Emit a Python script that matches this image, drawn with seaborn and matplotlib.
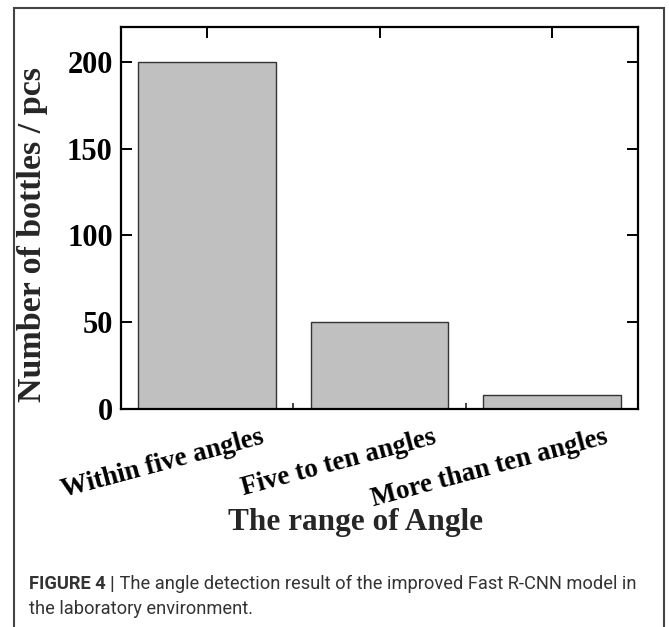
import matplotlib
matplotlib.use("Agg")
import matplotlib.pyplot as plt
import matplotlib.transforms as mtransforms
from matplotlib.patches import Rectangle
import seaborn as sns
import pandas as pd

categories = ["Within five angles", "Five to ten angles", "More than ten angles"]
counts = [200, 50, 8]
y_ticks = [0, 50, 100, 150, 200]
x_label = "The range of Angle"
y_label = "Number of bottles / pcs"
caption_bold = "FIGURE 4 |"
caption_line1 = " The angle detection result of the improved Fast R-CNN model in"
caption_line2 = "the laboratory environment."

sns.set_style("ticks")
plt.rcParams["font.family"] = ["Liberation Serif", "DejaVu Serif"]

df = pd.DataFrame({"cat": categories, "n": counts})

W, H = 669, 627
fig = plt.figure(figsize=(W / 100, H / 100), dpi=100)
ax = fig.add_axes([121 / W, 1 - 409 / H, 517 / W, 382 / H])

sns.barplot(data=df, x="cat", y="n", color="#c0c0c0", edgecolor="#333333",
            linewidth=1.0, width=0.8, saturation=1, ax=ax)
ax.set_xlim(-0.5, 2.5)
ax.set_ylim(0, 220)
ax.set_yticks(y_ticks)

for s in ax.spines.values():
    s.set_linewidth(1.6)
    s.set_color("black")
    s.set_visible(True)

ax.tick_params(axis="both", which="major", direction="in", length=8, width=1.4,
               top=True, right=True, colors="black")
ax.set_xticks([0.5, 1.5], minor=True)
ax.tick_params(axis="x", which="minor", direction="in", length=4, width=1.2,
               bottom=True, top=False)
ax.tick_params(axis="y", which="major", labelsize=22, pad=6)
for lab in ax.get_yticklabels():
    lab.set_fontweight("bold")

ax.set_xticks(range(len(categories)))
ax.set_xticklabels(categories, rotation=15, ha="right", fontsize=19.5,
                   fontweight="bold")
offset = mtransforms.ScaledTranslation(0.59, -0.11, fig.dpi_scale_trans)
for lab in ax.get_xticklabels():
    lab.set_transform(lab.get_transform() + offset)

ax.set_xlabel(x_label, fontsize=22.5, fontweight="bold")
ax.set_ylabel(y_label, fontsize=24.5, fontweight="bold")
ax.xaxis.set_label_coords((355 - 121) / 517, -(508 - 409) / 382)
ax.yaxis.set_label_coords(-(121 - 48) / 517, (409 - 235) / 382)

# border frame
fig.patches.append(Rectangle((14 / W, -0.1), (664 - 14) / W, 1.1 - 8 / H,
                             transform=fig.transFigure, fill=False,
                             edgecolor="#444444", linewidth=1.5))

cap_font = ["Roboto", "DejaVu Sans"]
cap_size = 13.5
y1, y2 = 1 - 589 / H, 1 - 614 / H
t1 = fig.text(29 / W, y1, caption_bold, fontsize=cap_size, fontweight="bold",
              color="#333333", family=cap_font, va="baseline")
t2 = fig.text(0, y1, caption_line1, fontsize=cap_size,
              color="#333333", family=cap_font, va="baseline")
t3 = fig.text(29 / W, y2, caption_line2, fontsize=cap_size,
              color="#333333", family=cap_font, va="baseline")
fig.canvas.draw()
r = fig.canvas.get_renderer()
total = t1.get_window_extent(r).width + t2.get_window_extent(r).width
scale = (636 - 29) / total
for t in (t1, t2, t3):
    t.set_fontsize(cap_size * scale)
fig.canvas.draw()
bb = t1.get_window_extent(r)
t2.set_x(bb.x1 / W)

fig.savefig("out.png", dpi=100)
